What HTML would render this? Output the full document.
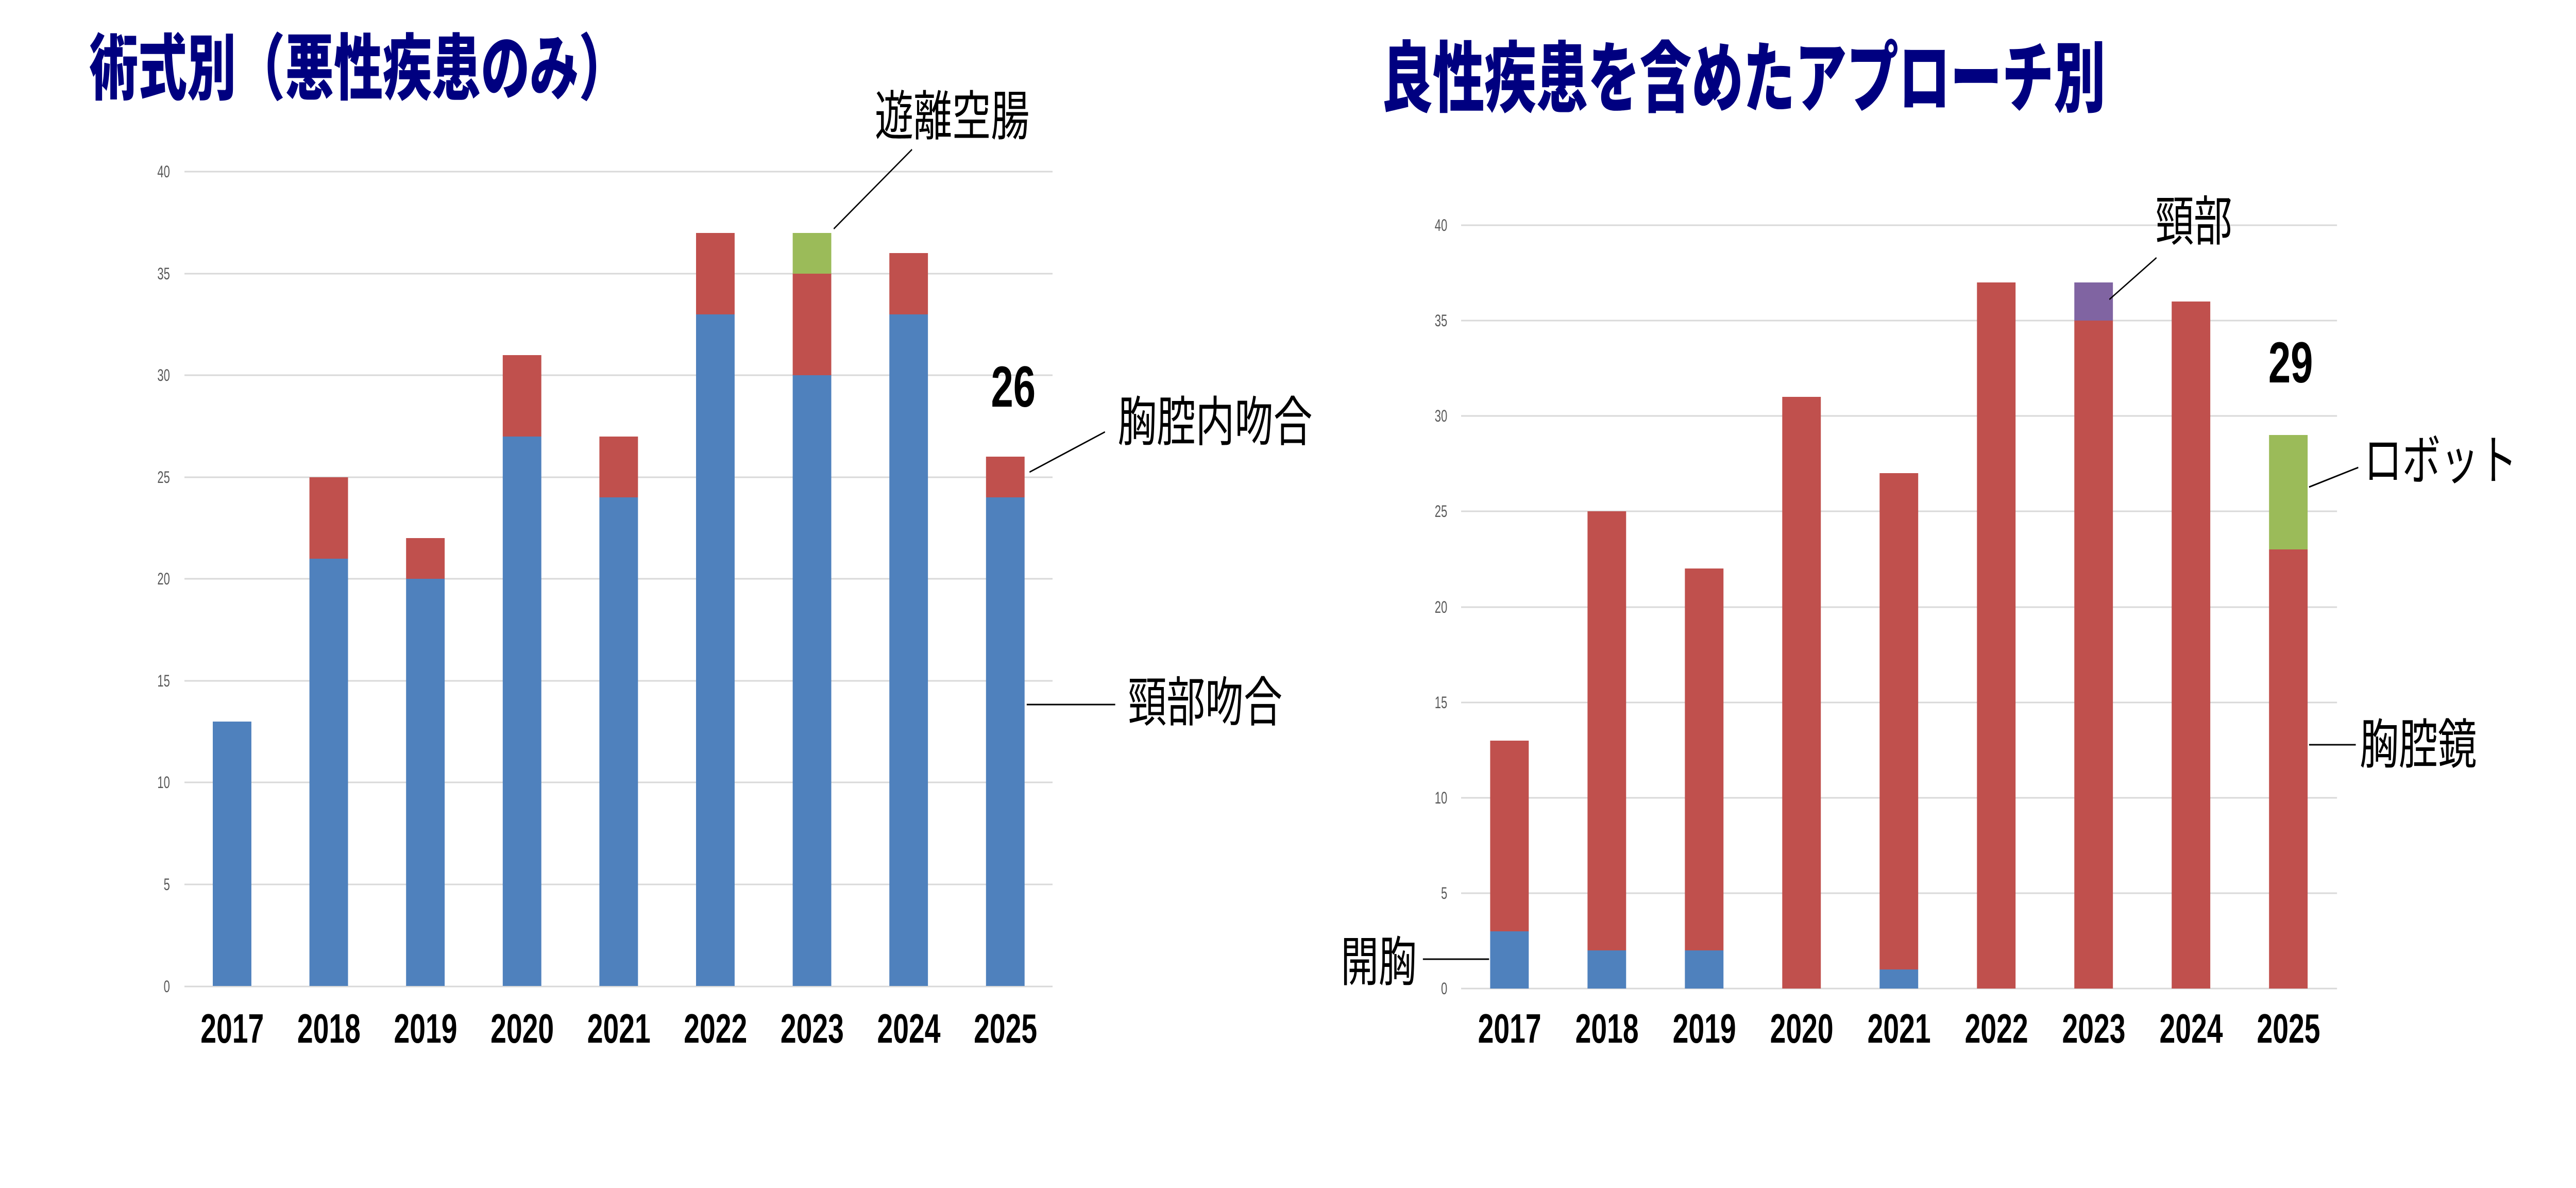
<!DOCTYPE html>
<html><head><meta charset="utf-8"><style>
html,body{margin:0;padding:0;background:#fff;width:100%;height:100%;overflow:hidden;}
svg{display:block;width:100vw;height:100vh;}
.yt{font-family:"Liberation Sans Narrow","Liberation Sans",sans-serif;font-size:32px;fill:#595959;text-anchor:end;}
.xt{font-family:"Liberation Sans Narrow","Liberation Sans",sans-serif;font-weight:bold;font-size:80px;fill:#000;text-anchor:middle;}
.num{font-family:"Liberation Sans Narrow","Liberation Sans",sans-serif;font-weight:bold;font-size:112px;fill:#000;}
.ttl{font-family:"Liberation Sans","Noto Sans CJK JP",sans-serif;font-weight:900;fill:#000080;}
.lbl{font-family:"Liberation Sans","Noto Sans CJK JP",sans-serif;font-size:104px;fill:#000;}
</style></head><body>
<svg viewBox="0 0 7276 2305" preserveAspectRatio="none" xmlns="http://www.w3.org/2000/svg">
<rect width="7276" height="2305" fill="#fff"/>
<text class="ttl" x="252" y="182" font-size="140" textLength="1521" lengthAdjust="spacingAndGlyphs">術式別（悪性疾患のみ）</text>
<g stroke="#D9D9D9" stroke-width="3">
<line x1="521" x2="2973" y1="333" y2="333"/><line x1="521" x2="2973" y1="531" y2="531"/>
<line x1="521" x2="2973" y1="728" y2="728"/><line x1="521" x2="2973" y1="926" y2="926"/>
<line x1="521" x2="2973" y1="1123" y2="1123"/><line x1="521" x2="2973" y1="1321" y2="1321"/>
<line x1="521" x2="2973" y1="1518" y2="1518"/><line x1="521" x2="2973" y1="1716" y2="1716"/>
<line x1="521" x2="2973" y1="1914" y2="1914"/>
</g>
<g class="yt">
<text x="480" y="344">40</text><text x="480" y="542">35</text><text x="480" y="739">30</text>
<text x="480" y="937">25</text><text x="480" y="1134">20</text><text x="480" y="1332">15</text>
<text x="480" y="1529">10</text><text x="480" y="1727">5</text><text x="480" y="1925">0</text>
</g>
<g>
<rect x="601" y="1400" width="109" height="513" fill="#4F81BD"/>
<rect x="874" y="1084" width="109" height="829" fill="#4F81BD"/>
<rect x="874" y="926" width="109" height="158" fill="#C0504D"/>
<rect x="1147" y="1123" width="109" height="790" fill="#4F81BD"/>
<rect x="1147" y="1044" width="109" height="79" fill="#C0504D"/>
<rect x="1420" y="847" width="109" height="1066" fill="#4F81BD"/>
<rect x="1420" y="689" width="109" height="158" fill="#C0504D"/>
<rect x="1693" y="965" width="109" height="948" fill="#4F81BD"/>
<rect x="1693" y="847" width="109" height="118" fill="#C0504D"/>
<rect x="1966" y="610" width="109" height="1303" fill="#4F81BD"/>
<rect x="1966" y="452" width="109" height="158" fill="#C0504D"/>
<rect x="2239" y="728" width="109" height="1185" fill="#4F81BD"/>
<rect x="2239" y="531" width="109" height="197" fill="#C0504D"/>
<rect x="2239" y="452" width="109" height="79" fill="#9BBB59"/>
<rect x="2512" y="610" width="109" height="1303" fill="#4F81BD"/>
<rect x="2512" y="491" width="109" height="119" fill="#C0504D"/>
<rect x="2785" y="965" width="109" height="948" fill="#4F81BD"/>
<rect x="2785" y="886" width="109" height="79" fill="#C0504D"/>
</g>
<g class="xt">
<text x="656" y="2023" textLength="179" lengthAdjust="spacingAndGlyphs">2017</text><text x="929" y="2023" textLength="179" lengthAdjust="spacingAndGlyphs">2018</text><text x="1202" y="2023" textLength="179" lengthAdjust="spacingAndGlyphs">2019</text>
<text x="1475" y="2023" textLength="179" lengthAdjust="spacingAndGlyphs">2020</text><text x="1748" y="2023" textLength="179" lengthAdjust="spacingAndGlyphs">2021</text><text x="2021" y="2023" textLength="179" lengthAdjust="spacingAndGlyphs">2022</text>
<text x="2294" y="2023" textLength="179" lengthAdjust="spacingAndGlyphs">2023</text><text x="2567" y="2023" textLength="179" lengthAdjust="spacingAndGlyphs">2024</text><text x="2840" y="2023" textLength="179" lengthAdjust="spacingAndGlyphs">2025</text>
</g>
<text class="num" x="2799" y="789" textLength="126" lengthAdjust="spacingAndGlyphs">26</text>
<g stroke="#000" stroke-width="3">
<line x1="2576" y1="290" x2="2355" y2="444"/>
<line x1="3121" y1="838" x2="2908" y2="916"/>
<line x1="2900" y1="1367" x2="3150" y2="1367"/>
</g>
<text class="lbl" x="2471" y="262" textLength="437" lengthAdjust="spacingAndGlyphs">遊離空腸</text>
<text class="lbl" x="3157" y="855" textLength="550" lengthAdjust="spacingAndGlyphs">胸腔内吻合</text>
<text class="lbl" x="3186" y="1399" textLength="436" lengthAdjust="spacingAndGlyphs">頸部吻合</text>

<text class="ttl" x="3901" y="205" font-size="150" textLength="2046" lengthAdjust="spacingAndGlyphs">良性疾患を含めたアプローチ別</text>
<g stroke="#D9D9D9" stroke-width="3">
<line x1="4127" x2="6601" y1="437" y2="437"/><line x1="4127" x2="6601" y1="622" y2="622"/>
<line x1="4127" x2="6601" y1="807" y2="807"/><line x1="4127" x2="6601" y1="992" y2="992"/>
<line x1="4127" x2="6601" y1="1178" y2="1178"/><line x1="4127" x2="6601" y1="1363" y2="1363"/>
<line x1="4127" x2="6601" y1="1548" y2="1548"/><line x1="4127" x2="6601" y1="1733" y2="1733"/>
<line x1="4127" x2="6601" y1="1918" y2="1918"/>
</g>
<g class="yt">
<text x="4088" y="448">40</text><text x="4088" y="633">35</text><text x="4088" y="818">30</text>
<text x="4088" y="1003">25</text><text x="4088" y="1189">20</text><text x="4088" y="1374">15</text>
<text x="4088" y="1559">10</text><text x="4088" y="1744">5</text><text x="4088" y="1929">0</text>
</g>
<g>
<rect x="4209" y="1807" width="109" height="111" fill="#4F81BD"/>
<rect x="4209" y="1437" width="109" height="370" fill="#C0504D"/>
<rect x="4484" y="1844" width="109" height="74" fill="#4F81BD"/>
<rect x="4484" y="992" width="109" height="852" fill="#C0504D"/>
<rect x="4759" y="1844" width="109" height="74" fill="#4F81BD"/>
<rect x="4759" y="1103" width="109" height="741" fill="#C0504D"/>
<rect x="5034" y="770" width="109" height="1148" fill="#C0504D"/>
<rect x="5309" y="1881" width="109" height="37" fill="#4F81BD"/>
<rect x="5309" y="918" width="109" height="963" fill="#C0504D"/>
<rect x="5584" y="548" width="109" height="1370" fill="#C0504D"/>
<rect x="5859" y="622" width="109" height="1296" fill="#C0504D"/>
<rect x="5859" y="548" width="109" height="74" fill="#8064A2"/>
<rect x="6134" y="585" width="109" height="1333" fill="#C0504D"/>
<rect x="6409" y="1066" width="109" height="852" fill="#C0504D"/>
<rect x="6409" y="844" width="109" height="222" fill="#9BBB59"/>
</g>
<g class="xt">
<text x="4264" y="2023" textLength="179" lengthAdjust="spacingAndGlyphs">2017</text><text x="4539" y="2023" textLength="179" lengthAdjust="spacingAndGlyphs">2018</text><text x="4814" y="2023" textLength="179" lengthAdjust="spacingAndGlyphs">2019</text>
<text x="5089" y="2023" textLength="179" lengthAdjust="spacingAndGlyphs">2020</text><text x="5364" y="2023" textLength="179" lengthAdjust="spacingAndGlyphs">2021</text><text x="5639" y="2023" textLength="179" lengthAdjust="spacingAndGlyphs">2022</text>
<text x="5914" y="2023" textLength="179" lengthAdjust="spacingAndGlyphs">2023</text><text x="6189" y="2023" textLength="179" lengthAdjust="spacingAndGlyphs">2024</text><text x="6464" y="2023" textLength="179" lengthAdjust="spacingAndGlyphs">2025</text>
</g>
<text class="num" x="6407" y="742" textLength="126" lengthAdjust="spacingAndGlyphs">29</text>
<g stroke="#000" stroke-width="3">
<line x1="6091" y1="500" x2="5958" y2="581"/>
<line x1="6661" y1="907" x2="6522" y2="945"/>
<line x1="6522" y1="1445" x2="6654" y2="1445"/>
<line x1="4019" y1="1861" x2="4206" y2="1861"/>
</g>
<text class="lbl" x="6088" y="466" textLength="217" lengthAdjust="spacingAndGlyphs">頸部</text>
<text class="lbl" x="6677" y="930" textLength="433" lengthAdjust="spacingAndGlyphs">ロボット</text>
<text class="lbl" x="6665" y="1481" textLength="331" lengthAdjust="spacingAndGlyphs">胸腔鏡</text>
<text class="lbl" x="3787" y="1903" textLength="214" lengthAdjust="spacingAndGlyphs">開胸</text>
</svg>
</body></html>
